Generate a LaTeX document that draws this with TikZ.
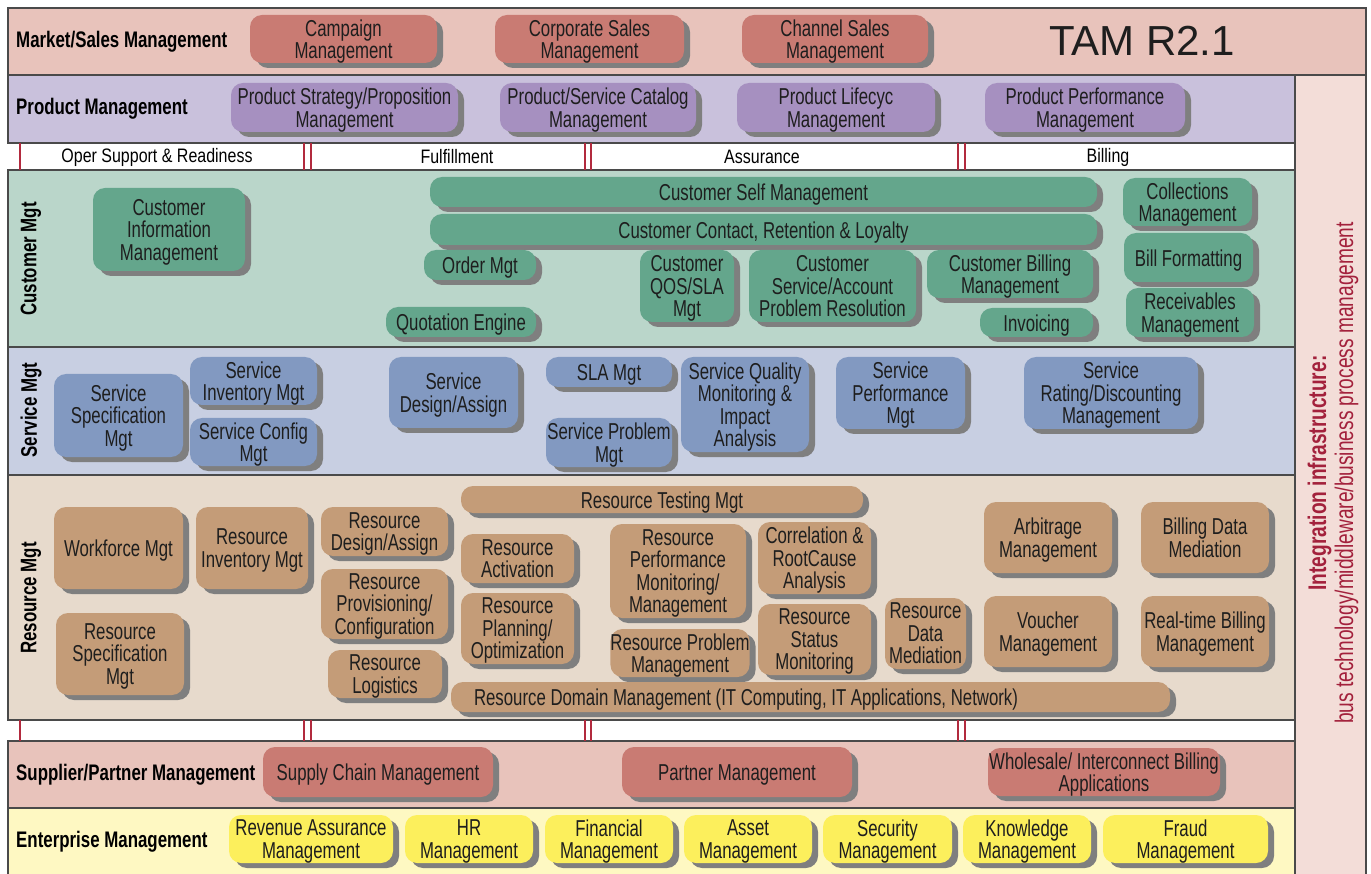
\documentclass[tikz,border=0pt]{standalone}
\usepackage{fontspec}
\setmainfont{Liberation Sans}[FakeStretch=0.73]
\newfontfamily\titlefont{Liberation Sans}
\newfontfamily\stripfont{Liberation Sans}[FakeStretch=0.82]
\newfontfamily\labelfont{Liberation Sans}[FakeStretch=0.75]
\usepackage{tikz}
\usetikzlibrary{shadows, positioning}

\definecolor{mktband}{HTML}{E8C3BB}
\definecolor{mktdark}{HTML}{C97B73}
\definecolor{prodband}{HTML}{C9C1DC}
\definecolor{proddark}{HTML}{A690C0}
\definecolor{custband}{HTML}{BAD6CA}
\definecolor{custdark}{HTML}{64A68C}
\definecolor{servband}{HTML}{C8CFE2}
\definecolor{servdark}{HTML}{8299C1}
\definecolor{resband}{HTML}{E7DACC}
\definecolor{resdark}{HTML}{C49C78}
\definecolor{entband}{HTML}{FEF8C2}
\definecolor{entdark}{HTML}{FCEF5C}
\definecolor{intband}{HTML}{F3DDD8}
\definecolor{intred}{HTML}{A3213C}
\definecolor{procred}{HTML}{B22A3E}
\definecolor{shadowgray}{HTML}{7F7F7F}
\definecolor{bandline}{HTML}{4A4A4A}
\definecolor{txtdark}{HTML}{1E1E1E}

\tikzset{
  tambox/.style={rounded corners=12pt, inner sep=0pt, align=center, text=txtdark,
    font=\fontsize{23}{22.5}\selectfont, text depth=0pt,
    drop shadow={shadow xshift=6pt, shadow yshift=-5pt, fill=shadowgray, opacity=1}},
  single/.style={text depth={}, execute at begin node={\rule{0pt}{22pt}}},
  mktbox/.style={tambox, fill=mktdark},
  prodbox/.style={tambox, fill=proddark},
  custbox/.style={tambox, fill=custdark},
  servbox/.style={tambox, fill=servdark},
  resbox/.style={tambox, fill=resdark},
  entbox/.style={tambox, fill=entdark},
  band/.style={draw=bandline, line width=1.3pt},
  bandlbl/.style={anchor=west, inner sep=0pt, font=\labelfont\fontsize{22.5}{23}\selectfont\bfseries},
  sidelbl/.style={rotate=90, inner sep=0pt, font=\labelfont\fontsize{22.5}{23}\selectfont\bfseries},
  proclbl/.style={inner sep=0pt, font=\stripfont\fontsize{19.5}{20}\selectfont},
  procline/.style={draw=procred, line width=2pt}
}

\begin{document}
\begin{tikzpicture}[x=1pt, y=-1pt]
\useasboundingbox (0,0) rectangle (1371,874);
%%
  % Bands
  \fill[intband] (1295,75) rectangle (1366,874);
  \draw[band] (1295,75) -- (1295,874) (1366,75) -- (1366,874);
  \filldraw[band, fill=mktband] (8,8) rectangle (1366,75);
  \filldraw[band, fill=prodband] (8,75) rectangle (1295,143);
  \filldraw[band, fill=custband] (8,170) rectangle (1295,347);
  \filldraw[band, fill=servband] (8,347) rectangle (1295,475);
  \filldraw[band, fill=resband] (8,475) rectangle (1295,720);
  \filldraw[band, fill=mktband] (8,741) rectangle (1295,808);
  \filldraw[band, fill=entband] (8,808) rectangle (1295,876);
  % Process lines
  \foreach \x in {20,304,311,585,591,958,965} {
    \draw[procline] (\x,143) -- (\x,170);
    \draw[procline] (\x,720) -- (\x,741);
  }
  \node[proclbl] (opersupport) at (157,157) {Oper Support \& Readiness};
  \node[proclbl] (fulfillment) at (457,157) {Fulfillment};
  \node[proclbl] (assurance) at (762,157) {Assurance};
  \node[proclbl] (billing) at (1108,157) {Billing};
  % Band labels
  \node[bandlbl] (marketlbl) at (16,42) {Market/Sales Management};
  \node[bandlbl] (productlbl) at (16,109) {Product Management};
  \node[bandlbl] (supplierlbl) at (16,775) {Supplier/Partner Management};
  \node[bandlbl] (enterpriselbl) at (16,842) {Enterprise Management};
  \node[sidelbl] (custlbl) at (31,259) {Customer Mgt};
  \node[sidelbl] (servlbl) at (31,410) {Service Mgt};
  \node[sidelbl] (reslbl) at (31,598) {Resource Mgt};
  \node[inner sep=0pt, font=\titlefont\fontsize{42}{44}\selectfont, text=txtdark] (tamtitle) at (1142,41) {TAM R2.1};
  \node[rotate=90, inner sep=0pt, align=center, text=intred, font=\labelfont\fontsize{25.5}{27}\selectfont] (intlbl) at (1333,473)
    {\textbf{Integration infrastructure:}\\bus technology/middleware/business process management};
  % Market/Sales Management
  \node[mktbox, minimum width=187pt, minimum height=48pt] (campaign) at (343.5,39) {Campaign\\Management};
  \node[mktbox, minimum width=189pt, minimum height=48pt] (corpsales) at (589.5,39) {Corporate Sales\\Management};
  \node[mktbox, minimum width=186pt, minimum height=48pt] (chansales) at (835,39) {Channel Sales\\Management};
  % Product Management
  \node[prodbox, minimum width=227pt, minimum height=49pt] (prodstrat) at (344.5,107.5) {Product Strategy/Proposition\\Management};
  \node[prodbox, minimum width=196pt, minimum height=49pt] (prodcat) at (598,107.5) {Product/Service Catalog\\Management};
  \node[prodbox, minimum width=198pt, minimum height=49pt] (prodlife) at (836,107.5) {Product Lifecyc\\Management};
  \node[prodbox, minimum width=200pt, minimum height=49pt] (prodperf) at (1085,107.5) {Product Performance\\Management};
  % Customer Mgt
  \node[custbox, minimum width=152pt, minimum height=83pt] (custinfo) at (169,229.5) {Customer\\Information\\Management};
  \node[custbox, single, minimum width=667pt, minimum height=30pt] (custself) at (763.5,192) {Customer Self Management};
  \node[custbox, single, minimum width=667pt, minimum height=31pt] (custcontact) at (763.5,229.5) {Customer Contact, Retention \& Loyalty};
  \node[custbox, single, minimum width=112pt, minimum height=30pt] (ordermgt) at (480,265) {Order Mgt};
  \node[custbox, single, minimum width=150pt, minimum height=30pt] (quotation) at (461,322) {Quotation Engine};
  \node[custbox, minimum width=94pt, minimum height=72pt] (custqos) at (687,286) {Customer\\QOS/SLA\\Mgt};
  \node[custbox, minimum width=167pt, minimum height=72pt] (custservice) at (832.5,286) {Customer\\Service/Account\\Problem Resolution};
  \node[custbox, minimum width=166pt, minimum height=48pt] (custbilling) at (1010,274) {Customer Billing\\Management};
  \node[custbox, single, minimum width=113pt, minimum height=29pt] (invoicing) at (1036.5,322.5) {Invoicing};
  \node[custbox, minimum width=129pt, minimum height=48pt] (collections) at (1187.5,202) {Collections\\Management};
  \node[custbox, single, minimum width=129pt, minimum height=49pt] (billformat) at (1188.5,257.5) {Bill Formatting};
  \node[custbox, minimum width=128pt, minimum height=49pt] (receivables) at (1190,312.5) {Receivables\\Management};
  % Service Mgt
  \node[servbox, minimum width=129pt, minimum height=83pt] (servspec) at (118.5,415.5) {Service\\Specification\\Mgt};
  \node[servbox, minimum width=127pt, minimum height=48pt] (servinv) at (253.5,381) {Service\\Inventory Mgt};
  \node[servbox, minimum width=127pt, minimum height=48pt] (servconfig) at (253.5,442) {Service Config\\Mgt};
  \node[servbox, minimum width=129pt, minimum height=71pt] (servdesign) at (453.5,392.5) {Service\\Design/Assign};
  \node[servbox, single, minimum width=126pt, minimum height=30pt] (slamgt) at (609,372) {SLA Mgt};
  \node[servbox, minimum width=126pt, minimum height=49pt] (servproblem) at (609,442.5) {Service Problem\\Mgt};
  \node[servbox, minimum width=128pt, minimum height=95pt] (servquality) at (745,404.5) {Service Quality\\Monitoring \&\\Impact\\Analysis};
  \node[servbox, minimum width=129pt, minimum height=72pt] (servperf) at (900.5,393) {Service\\Performance\\Mgt};
  \node[servbox, minimum width=174pt, minimum height=72pt] (servrating) at (1111,393) {Service\\Rating/Discounting\\Management};
  % Resource Mgt
  \node[resbox, single, minimum width=129pt, minimum height=82pt] (workforce) at (118.5,548) {Workforce Mgt};
  \node[resbox, minimum width=112pt, minimum height=82pt] (resinv) at (252,548) {Resource\\Inventory Mgt};
  \node[resbox, minimum width=128pt, minimum height=82pt] (resspec) at (120,654) {Resource\\Specification\\Mgt};
  \node[resbox, minimum width=127pt, minimum height=49pt] (resdesign) at (384.5,531.5) {Resource\\Design/Assign};
  \node[resbox, minimum width=127pt, minimum height=70pt] (resprov) at (384.5,604) {Resource\\Provisioning/\\Configuration};
  \node[resbox, minimum width=114pt, minimum height=48pt] (reslogistics) at (385,674) {Resource\\Logistics};
  \node[resbox, single, minimum width=402pt, minimum height=27pt] (restesting) at (662,499.5) {Resource Testing Mgt};
  \node[resbox, minimum width=113pt, minimum height=49pt] (resactivation) at (517.5,558.5) {Resource\\Activation};
  \node[resbox, minimum width=113pt, minimum height=71pt] (resplanning) at (517.5,628.5) {Resource\\Planning/\\Optimization};
  \node[resbox, minimum width=136pt, minimum height=94pt] (resperf) at (678,571) {Resource\\Performance\\Monitoring/\\Management};
  \node[resbox, minimum width=136pt, minimum height=48pt] (resproblem) at (680,653) {Resource Problem\\Management};
  \node[resbox, minimum width=113pt, minimum height=72pt] (correlation) at (814.5,558) {Correlation \&\\RootCause\\Analysis};
  \node[resbox, minimum width=113pt, minimum height=71pt] (resstatus) at (814.5,639.5) {Resource\\Status\\Monitoring};
  \node[resbox, minimum width=81pt, minimum height=71pt] (resdata) at (925.5,633.5) {Resource\\Data\\Mediation};
  \node[resbox, minimum width=128pt, minimum height=71pt] (arbitrage) at (1048,537.5) {Arbitrage\\Management};
  \node[resbox, minimum width=128pt, minimum height=71pt] (billingdata) at (1205,537.5) {Billing Data\\Mediation};
  \node[resbox, minimum width=128pt, minimum height=71pt] (voucher) at (1048,631.5) {Voucher\\Management};
  \node[resbox, minimum width=128pt, minimum height=71pt] (realtime) at (1205,631.5) {Real-time Billing\\Management};
  \node[resbox, single, align=flush left, text width=673pt, inner xsep=23pt, minimum height=30pt] (resdomain) at (810.5,697) {Resource Domain Management (IT Computing, IT Applications, Network)};
  % Supplier/Partner Management
  \node[mktbox, single, minimum width=230pt, minimum height=50pt] (supplychain) at (378,772) {Supply Chain Management};
  \node[mktbox, single, minimum width=230pt, minimum height=50pt] (partner) at (737,772) {Partner Management};
  \node[mktbox, minimum width=232pt, minimum height=48pt] (wholesale) at (1104,772) {Wholesale/ Interconnect Billing\\Applications};
  % Enterprise Management
  \node[entbox, minimum width=164pt, minimum height=48pt] (revenue) at (311,839) {Revenue Assurance\\Management};
  \node[entbox, minimum width=128pt, minimum height=48pt] (hrmgt) at (469,839) {HR\\Management};
  \node[entbox, minimum width=128pt, minimum height=48pt] (financial) at (609,839) {Financial\\Management};
  \node[entbox, minimum width=128pt, minimum height=48pt] (asset) at (748,839) {Asset\\Management};
  \node[entbox, minimum width=129pt, minimum height=48pt] (security) at (887.5,839) {Security\\Management};
  \node[entbox, minimum width=128pt, minimum height=48pt] (knowledge) at (1027,839) {Knowledge\\Management};
  \node[entbox, minimum width=165pt, minimum height=48pt] (fraud) at (1185.5,839) {Fraud\\Management};
%
\end{tikzpicture}
\end{document}
